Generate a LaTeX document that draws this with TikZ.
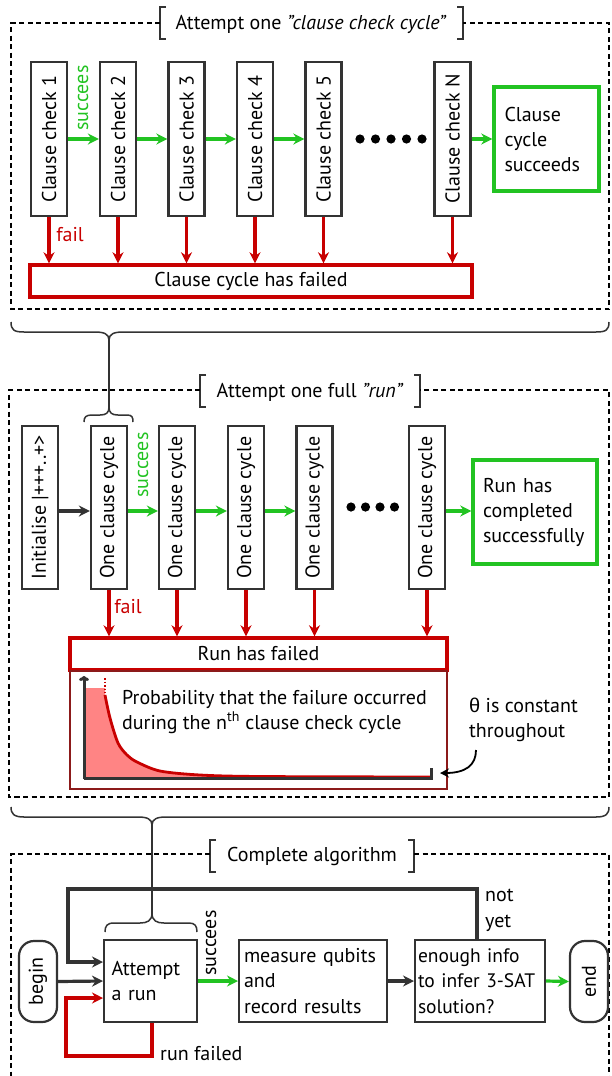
\documentclass[tikz,border=0pt]{standalone}
\usepackage{fontspec}
\setmainfont{PT Sans}
\newfontfamily\grk{Liberation Sans}
\usetikzlibrary{arrows.meta}
\definecolor{gr}{HTML}{22C322}
\definecolor{rd}{HTML}{C80000}
\definecolor{dk}{HTML}{333333}
\definecolor{pk}{HTML}{FF8484}
\definecolor{drd}{HTML}{8C1A1A}
\tikzset{
  vbox/.style={draw=dk, line width=2.2pt, minimum width=36pt, inner sep=0pt, font=\fontsize{20}{22}\selectfont},
  fbox/.style={draw=rd, line width=3.4pt, inner sep=0pt, font=\fontsize{20}{22}\selectfont},
  gbox/.style={draw=gr, line width=3.4pt, inner sep=0pt, font=\fontsize{20}{25}\selectfont, align=left, text width=#1},
  pbox/.style={draw=dk, line width=2pt, inner sep=0pt, font=\fontsize{20}{25.5}\selectfont, align=left},
  rbox/.style={draw=dk, line width=2.2pt, rounded corners=15pt, minimum width=38pt, minimum height=81pt, inner sep=0pt, font=\fontsize{20}{22}\selectfont},
  garrow/.style={draw=gr, line width=3.2pt, -{Stealth[length=11pt,width=11pt]}},
  rarrow/.style={draw=rd, line width=3.2pt, -{Stealth[length=11pt,width=11pt]}},
  karrow/.style={draw=dk, line width=3.2pt, -{Stealth[length=11pt,width=11pt]}},
  dbox/.style={draw=black, line width=1.2pt, dash pattern=on 5pt off 3.5pt},
  brk/.style={draw=dk, line width=1.6pt},
  lbl/.style={font=\fontsize{20}{22}\selectfont, inner sep=0pt},
  brc/.style={draw=dk, line width=1.5pt},
}
\begin{document}
\begin{tikzpicture}[x=1pt,y=-1pt]
\useasboundingbox (0,0) rectangle (611,1076);

% ================= TOP SECTION =================
\node[lbl] (t1) at (311,24) {Attempt one \textit{"clause check cycle"}};
\coordinate (t1l) at (160,23);
\coordinate (t1r) at (463,23);
\draw[brk] (166,7) -- (160,7) -- (160,39) -- (166,39);
\draw[brk] (457,7) -- (463,7) -- (463,39) -- (457,39);
\draw[dbox] (t1l) -- (11,23) -- (11,309) -- (609,309) -- (609,23) -- (t1r);

\foreach \n/\x/\t in {c1/49/1, c2/118/2, c3/186.5/3, c4/255/4, c5/323.5/5, cN/452.5/N}
  \node[vbox, minimum height=154pt] (\n) at (\x,139) {\rotatebox{90}{Clause check \t}};
\node[gbox=84pt, minimum width=105pt, minimum height=104pt] (cs) at (546.5,139) {Clause\\cycle\\succeeds};
\node[fbox, minimum width=442pt, minimum height=32pt] (cf) at (251,281) {Clause cycle has failed};

\foreach \a/\b in {c1/c2, c2/c3, c3/c4, c4/c5, cN/cs}
  \draw[garrow] (\a.east) -- (\b.west);
\foreach \a in {c1,c2,c3,c4,c5,cN}
  \draw[rarrow] (\a.south) -- (\a.south |- cf.north);
\foreach \x in {0,1,2,3,4} \fill (360+15.5*\x,139) circle (4.6pt);
\node[lbl, text=gr, rotate=90] (s1) at (83,98) {succees};
\node[lbl, text=rd] (f1) at (70,235) {fail};

% top brace
\coordinate (b1tip) at (109,340);
\draw[brc] (11,322) .. controls (11,330) and (14,332) .. (24,332) -- (95,332)
  .. controls (104,332) and (109,334) .. (b1tip)
  .. controls (109,334) and (114,332) .. (123,332) -- (596,332)
  .. controls (606,332) and (609,330) .. (609,322);

% ================= MIDDLE SECTION =================
\node[lbl] (t2) at (310,392) {Attempt one full \textit{"run"}};
\coordinate (t2l) at (200,390);
\coordinate (t2r) at (420,390);
\draw[brk] (206,375) -- (200,375) -- (200,407) -- (206,407);
\draw[brk] (414,375) -- (420,375) -- (420,407) -- (414,407);
\draw[dbox] (t2l) -- (9,390) -- (9,797) -- (609,797) -- (609,390) -- (t2r);

\node[vbox, minimum height=163pt] (ini) at (40,507.5) {\rotatebox{90}{Initialise |+++..+>}};
\foreach \n/\x in {o1/109, o2/177, o3/246, o4/314.5, oN/427}
  \node[vbox, minimum height=163pt] (\n) at (\x,507.5) {\rotatebox{90}{One clause cycle}};
\node[gbox=104pt, minimum width=124pt, minimum height=104pt] (rs) at (535,512) {Run has\\completed\\successfully};
\node[fbox, minimum width=377pt, minimum height=32pt] (rf) at (258.5,654) {Run has failed};
\node[draw=drd, line width=1.8pt, minimum width=377pt, minimum height=118pt, inner sep=0pt, anchor=north] (pl) at (258.5,670) {};

\coordinate (row2) at (0,511);
\draw[karrow] (ini.east |- row2) -- (o1.west |- row2);
\foreach \a/\b in {o1/o2, o2/o3, o3/o4}
  \draw[garrow] (\a.east |- row2) -- (\b.west |- row2);
\draw[garrow] (oN.east |- row2) -- (rs.west |- row2);
\foreach \a in {o1,o2,o3,o4,oN}
  \draw[rarrow] (\a.south) -- (\a.south |- rf.north);
\foreach \x in {0,1,2,3} \fill (351+14.5*\x,507) circle (4.6pt);
\node[lbl, text=gr, rotate=90] (s2) at (143,465) {succees};
\node[lbl, text=rd] (f2) at (128,607) {fail};

% small brace over first clause cycle
\coordinate (b2tip) at (109,407);
\draw[brc] (84,422) .. controls (84,417) and (86,415) .. (92,415) -- (100,415)
  .. controls (106,415) and (109,413) .. (b2tip)
  .. controls (109,413) and (112,415) .. (118,415) -- (127,415)
  .. controls (132,415) and (133,417) .. (133,422);
\draw[brc] (b1tip) -- (b2tip);

% plot
\fill[pk] (84,777) -- (84,688) -- (105,688) -- (105,695)
  -- plot[smooth] coordinates {(105,695) (110,718) (118,743) (127,755) (137,762) (160,771) (200,775) (260,776.5) (431,777)}
  -- cycle;
\draw[rd, line width=2.8pt] plot[smooth] coordinates {(105,695) (110,718) (118,743) (127,755) (137,762) (160,771) (200,775) (260,776.5) (431,777)};
\draw[rd, line width=1.5pt, dotted] (105,678) -- (105,693);
\draw[dk, line width=3pt, -{To[length=5pt,width=10pt]}] (84,779) -- (84,676);
\draw[dk, line width=3pt] (84,778) -- (431,778) -- (431,768);
\node[lbl, align=left, anchor=west, font=\fontsize{20}{25}\selectfont] (pt) at (122,712) {Probability that the failure occurred\\during the n\textsuperscript{th} clause check cycle};
\node[lbl, align=left, anchor=west, font=\fontsize{20}{25}\selectfont] (th) at (469,720) {{\grk θ} is constant\\throughout};
\coordinate (thA) at (476,750);
\coordinate (thB) at (440,773);
\draw[black, line width=1.8pt, -{Stealth[length=9pt,width=9pt]}] (thA) .. controls (476,765) and (466,773) .. (thB);

% second brace
\coordinate (b3tip) at (152,825);
\draw[brc] (11,807) .. controls (11,814) and (14,817) .. (24,817) -- (138,817)
  .. controls (147,817) and (152,819) .. (b3tip)
  .. controls (152,819) and (157,817) .. (166,817) -- (596,817)
  .. controls (606,817) and (609,814) .. (609,807);

% ================= BOTTOM SECTION =================
\node[lbl] (t3) at (312,856) {Complete algorithm};
\coordinate (t3l) at (210,854);
\coordinate (t3r) at (414,854);
\draw[brk] (216,840) -- (210,840) -- (210,872) -- (216,872);
\draw[brk] (408,840) -- (414,840) -- (414,872) -- (408,872);
\draw[dbox] (t3l) -- (11,854) -- (11,1080);
\draw[dbox] (t3r) -- (609,854) -- (609,1080);

\node[rbox] (bg) at (38,981.5) {\rotatebox{90}{begin}};
\node[pbox, minimum width=93pt, minimum height=82pt, text width=78pt] (ar) at (150.5,981) {Attempt\\a run};
\node[pbox, minimum width=148pt, minimum height=82pt, text width=138pt] (mq) at (313,981) {measure qubits\\and\\record results};
\node[pbox, minimum width=130pt, minimum height=82pt, text width=124pt, font=\fontsize{19.5}{25.5}\selectfont] (ei) at (480,981) {enough info\\to infer 3\mbox{-}SAT\\solution?};
\node[rbox] (en) at (589,981.5) {\rotatebox{90}{end}};

\draw[karrow] (bg.east) -- (ar.west);
\draw[garrow] (ar.east) -- (mq.west);
\draw[karrow] (mq.east) -- (ei.west);
\draw[garrow] (ei.east) -- (en.west);

\coordinate (ly) at (0,962);
\draw[karrow] (ei.north -| 477,0) -- (477,889) -- (68,889) -- (68,962) -- (ar.west |- ly);
\coordinate (ry) at (0,998);
\draw[rarrow] (ar.south -| 152,0) -- (152,1056) -- (66,1056) -- (66,998) -- (ar.west |- ry);

\node[lbl, align=left, anchor=west, font=\fontsize{20}{26}\selectfont] (ny) at (485,910) {not\\yet};
\node[lbl, anchor=west] (rfl) at (160,1054) {run failed};
\node[lbl, rotate=90] (s3) at (211,943) {succees};

% small brace over attempt
\coordinate (b4tip) at (152,913);
\draw[brc] (105,932) .. controls (105,926) and (107,923) .. (114,923) -- (140,923)
  .. controls (147,923) and (152,921) .. (b4tip)
  .. controls (152,921) and (157,923) .. (164,923) -- (189,923)
  .. controls (195,923) and (197,926) .. (197,932);
\draw[brc] (b3tip) -- (b4tip);
\end{tikzpicture}
\end{document}
